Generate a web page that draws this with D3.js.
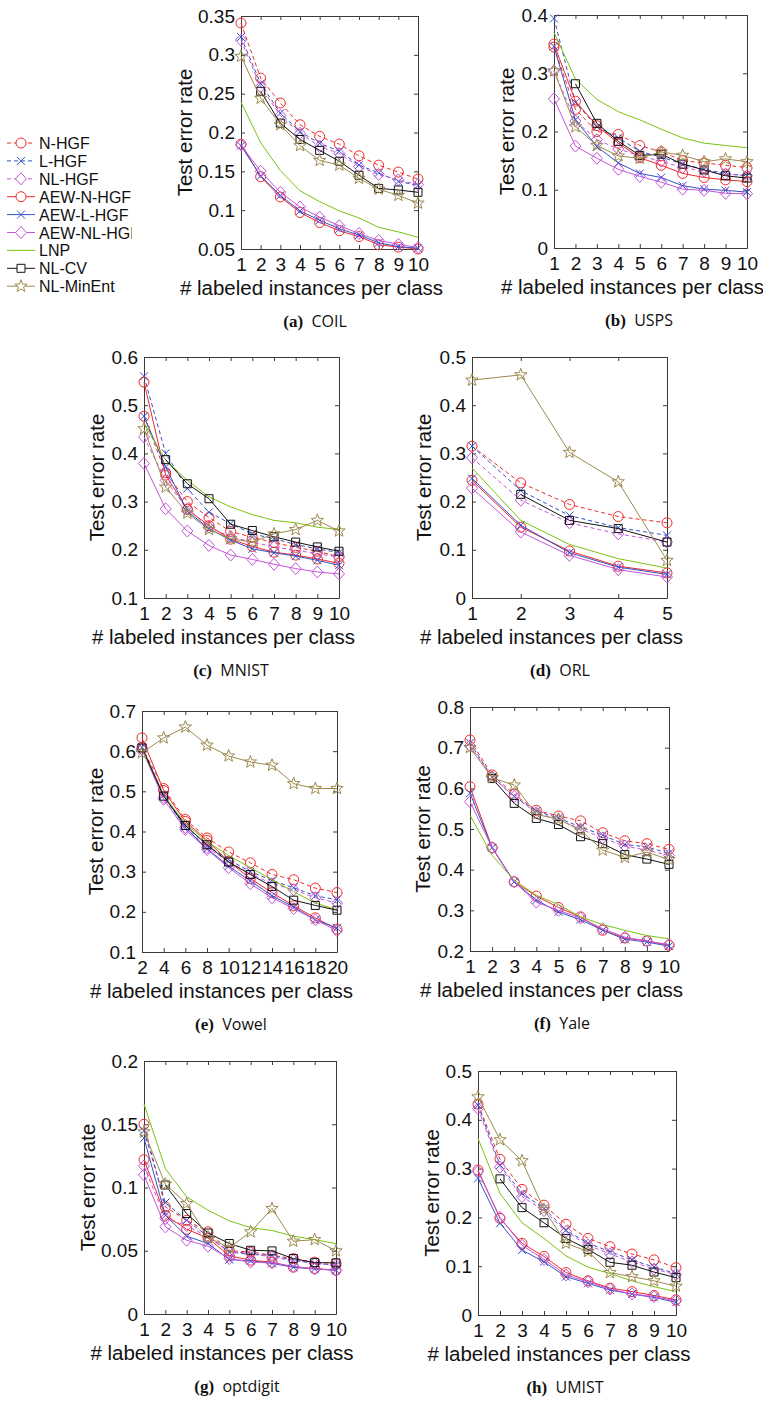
<!DOCTYPE html>
<html>
<head>
<meta charset="utf-8">
<script src="https://cdn.jsdelivr.net/npm/d3@7"></script>
<style>
  body { margin: 0; background: #fff; }
  svg { display: block; }
</style>
</head>
<body>
<svg id="fig" width="763" height="1401"></svg>
<script>
// ---- data (series order follows seriesNames) ----
var seriesNames = ["N-HGF", "L-HGF", "NL-HGF", "AEW-N-HGF", "AEW-L-HGF", "AEW-NL-HGF", "LNP", "NL-CV", "NL-MinEnt"];

var xOneToTen = [1, 2, 3, 4, 5, 6, 7, 8, 9, 10];
var xOneToFive = [1, 2, 3, 4, 5];
var xVowel = [2, 4, 6, 8, 10, 12, 14, 16, 18, 20];

var coilErr = [
  [0.341, 0.270, 0.238, 0.210, 0.195, 0.185, 0.170, 0.158, 0.149, 0.140],
  [0.323, 0.263, 0.225, 0.201, 0.186, 0.176, 0.158, 0.148, 0.137, 0.132],
  [0.319, 0.259, 0.222, 0.199, 0.182, 0.173, 0.156, 0.146, 0.139, 0.133],
  [0.185, 0.143, 0.117, 0.097, 0.084, 0.0735, 0.066, 0.0555, 0.0525, 0.050],
  [0.183, 0.144, 0.119, 0.099, 0.087, 0.076, 0.068, 0.058, 0.053, 0.051],
  [0.184, 0.150, 0.123, 0.104, 0.091, 0.080, 0.070, 0.061, 0.056, 0.052],
  [0.239, 0.187, 0.151, 0.125, 0.111, 0.099, 0.090, 0.078, 0.072, 0.065],
  [null, 0.253, 0.212, 0.191, 0.177, 0.163, 0.145, 0.128, 0.126, 0.123],
  [0.298, 0.244, 0.210, 0.183, 0.164, 0.158, 0.141, 0.127, 0.119, 0.109]
];

var uspsErr = [
  [0.345, 0.238, 0.200, 0.195, 0.176, 0.165, 0.150, 0.146, 0.142, 0.138],
  [0.394, 0.250, 0.208, 0.189, 0.166, 0.156, 0.144, 0.135, 0.128, 0.124],
  [0.304, 0.218, 0.186, 0.170, 0.158, 0.149, 0.138, 0.132, 0.127, 0.124],
  [0.350, 0.252, 0.210, 0.180, 0.155, 0.142, 0.128, 0.121, 0.117, 0.114],
  [0.346, 0.220, 0.174, 0.146, 0.128, 0.121, 0.107, 0.101, 0.099, 0.096],
  [0.256, 0.175, 0.154, 0.135, 0.123, 0.113, 0.101, 0.099, 0.094, 0.093],
  [0.370, 0.290, 0.255, 0.234, 0.220, 0.204, 0.189, 0.180, 0.176, 0.172],
  [null, 0.282, 0.214, 0.183, 0.159, 0.161, 0.144, 0.134, 0.124, 0.120],
  [0.304, 0.208, 0.176, 0.158, 0.154, 0.165, 0.159, 0.148, 0.153, 0.148]
];

var mnistErr = [
  [0.477, 0.360, 0.300, 0.267, 0.238, 0.226, 0.215, 0.205, 0.197, 0.186],
  [0.560, 0.400, 0.327, 0.278, 0.254, 0.233, 0.223, 0.211, 0.202, 0.194],
  [0.434, 0.344, 0.285, 0.247, 0.227, 0.216, 0.206, 0.199, 0.192, 0.185],
  [0.548, 0.355, 0.284, 0.250, 0.222, 0.207, 0.195, 0.189, 0.181, 0.172],
  [0.477, 0.372, 0.280, 0.244, 0.220, 0.202, 0.194, 0.187, 0.178, 0.168],
  [0.379, 0.285, 0.239, 0.209, 0.189, 0.180, 0.170, 0.161, 0.154, 0.150],
  [0.462, 0.386, 0.344, 0.310, 0.289, 0.273, 0.261, 0.256, 0.247, 0.242],
  [null, 0.387, 0.337, 0.306, 0.253, 0.240, 0.227, 0.216, 0.206, 0.197],
  [0.451, 0.330, 0.276, 0.242, 0.223, 0.216, 0.233, 0.242, 0.261, 0.239]
];

var orlErr = [
  [0.315, 0.239, 0.194, 0.169, 0.156],
  [0.315, 0.223, 0.171, 0.146, 0.130],
  [0.291, 0.203, 0.156, 0.133, 0.116],
  [0.244, 0.147, 0.0975, 0.066, 0.052],
  [0.248, 0.151, 0.094, 0.064, 0.049],
  [0.228, 0.137, 0.0885, 0.059, 0.0435],
  [0.270, 0.161, 0.111, 0.0816, 0.062],
  [null, 0.215, 0.161, 0.144, 0.116],
  [0.452, 0.463, 0.302, 0.241, 0.078]
];

var vowelErr = [
  [0.610, 0.507, 0.430, 0.384, 0.349, 0.322, 0.293, 0.280, 0.259, 0.248],
  [0.610, 0.490, 0.415, 0.365, 0.330, 0.300, 0.278, 0.260, 0.240, 0.230],
  [0.605, 0.485, 0.410, 0.360, 0.325, 0.295, 0.270, 0.255, 0.235, 0.222],
  [0.633, 0.502, 0.425, 0.378, 0.325, 0.283, 0.248, 0.215, 0.185, 0.157],
  [0.610, 0.490, 0.410, 0.357, 0.314, 0.277, 0.240, 0.212, 0.180, 0.160],
  [0.605, 0.480, 0.405, 0.355, 0.310, 0.270, 0.235, 0.208, 0.180, 0.153],
  [0.605, 0.490, 0.420, 0.375, 0.340, 0.310, 0.280, 0.250, 0.222, 0.205],
  [0.608, 0.488, 0.415, 0.367, 0.324, 0.293, 0.263, 0.229, 0.216, 0.204],
  [0.596, 0.633, 0.660, 0.615, 0.588, 0.573, 0.565, 0.519, 0.507, 0.507]
];

var yaleErr = [
  [0.719, 0.633, 0.585, 0.546, 0.532, 0.520, 0.491, 0.471, 0.464, 0.450],
  [0.712, 0.628, 0.580, 0.544, 0.527, 0.505, 0.485, 0.462, 0.456, 0.440],
  [0.705, 0.628, 0.580, 0.540, 0.523, 0.500, 0.478, 0.458, 0.448, 0.435],
  [0.604, 0.454, 0.370, 0.335, 0.307, 0.284, 0.251, 0.232, 0.225, 0.214],
  [0.588, 0.454, 0.370, 0.325, 0.296, 0.277, 0.251, 0.229, 0.222, 0.212],
  [0.567, 0.454, 0.370, 0.320, 0.300, 0.281, 0.255, 0.234, 0.224, 0.216],
  [0.534, 0.435, 0.374, 0.337, 0.314, 0.284, 0.265, 0.251, 0.238, 0.230],
  [null, 0.624, 0.563, 0.526, 0.511, 0.481, 0.464, 0.437, 0.426, 0.413],
  [0.700, 0.626, 0.608, 0.536, 0.524, 0.497, 0.448, 0.430, 0.443, 0.425]
];

var optdigitErr = [
  [0.150, 0.0847, 0.074, 0.065, 0.050, 0.049, 0.0464, 0.0438, 0.041, 0.040],
  [0.145, 0.088, 0.074, 0.0615, 0.049, 0.047, 0.0464, 0.0425, 0.040, 0.0385],
  [0.117, 0.0755, 0.070, 0.061, 0.049, 0.0483, 0.0446, 0.0425, 0.040, 0.0385],
  [0.122, 0.078, 0.067, 0.060, 0.046, 0.0425, 0.041, 0.037, 0.036, 0.0346],
  [0.139, 0.078, 0.0615, 0.0557, 0.043, 0.042, 0.040, 0.037, 0.0356, 0.0346],
  [0.110, 0.0689, 0.0583, 0.0536, 0.0438, 0.041, 0.0404, 0.0377, 0.0356, 0.0346],
  [0.166, 0.115, 0.0926, 0.082, 0.0736, 0.0683, 0.066, 0.0615, 0.0588, 0.0557],
  [null, 0.102, 0.0794, 0.064, 0.0557, 0.0504, 0.0499, 0.0438, 0.0406, 0.0404],
  [0.144, 0.1026, 0.0873, 0.0604, 0.0525, 0.0649, 0.0834, 0.0575, 0.0588, 0.0499]
];

var umistErr = [
  [0.432, 0.319, 0.2575, 0.225, 0.186, 0.157, 0.140, 0.125, 0.113, 0.097],
  [0.430, 0.307, 0.249, 0.2186, 0.174, 0.147, 0.130, 0.113, 0.098, 0.085],
  [0.423, 0.303, 0.2425, 0.214, 0.171, 0.143, 0.125, 0.109, 0.094, 0.083],
  [0.297, 0.198, 0.147, 0.120, 0.087, 0.070, 0.055, 0.048, 0.040, 0.031],
  [0.280, 0.188, 0.133, 0.109, 0.0785, 0.065, 0.051, 0.043, 0.036, 0.026],
  [0.294, 0.200, 0.143, 0.114, 0.082, 0.068, 0.053, 0.043, 0.0376, 0.029],
  [0.362, 0.249, 0.189, 0.157, 0.121, 0.098, 0.085, 0.070, 0.058, 0.048],
  [null, 0.279, 0.220, 0.189, 0.157, 0.1345, 0.108, 0.102, 0.088, 0.0765],
  [0.447, 0.359, 0.316, 0.2165, 0.147, 0.130, 0.0867, 0.0785, 0.070, 0.059]
];

// tick values
var yTicksCOIL = [0.05, 0.1, 0.15, 0.2, 0.25, 0.3, 0.35];
var yTicksUSPS = [0, 0.1, 0.2, 0.3, 0.4];
var yTicksMNIST = [0.1, 0.2, 0.3, 0.4, 0.5, 0.6];
var yTicksORL = [0, 0.1, 0.2, 0.3, 0.4, 0.5];
var yTicksVowel = [0.1, 0.2, 0.3, 0.4, 0.5, 0.6, 0.7];
var yTicksYale = [0.2, 0.3, 0.4, 0.5, 0.6, 0.7, 0.8];
var yTicksOptdigit = [0, 0.05, 0.1, 0.15, 0.2];
var yTicksUMIST = [0, 0.1, 0.2, 0.3, 0.4, 0.5];

// ---- styles ----
var seriesStyle = [
  {color: "#f02a2a", dash: "4,3", marker: "circle"},
  {color: "#3352c8", dash: "4,3", marker: "x"},
  {color: "#c455d8", dash: "4,3", marker: "diamond"},
  {color: "#f02a2a", dash: null, marker: "circle"},
  {color: "#3352c8", dash: null, marker: "x"},
  {color: "#c455d8", dash: null, marker: "diamond"},
  {color: "#7cc212", dash: null, marker: null},
  {color: "#111111", dash: null, marker: "square"},
  {color: "#9c8a4e", dash: null, marker: "star"}
];

var frameColor = "#3a3a3a";
var sansFont = "'Liberation Sans', Arial, Helvetica, sans-serif";

// panel layout: box = [left, top, right, bottom]
var panels = [
  {tag: "(a)", name: "COIL", xs: xOneToTen, err: coilErr, yDom: [0.05, 0.35], yTicks: yTicksCOIL, box: [241, 16, 418, 249], yLabOff: 56, capX: 315},
  {tag: "(b)", name: "USPS", xs: xOneToTen, err: uspsErr, yDom: [0, 0.4], yTicks: yTicksUSPS, box: [554, 15, 747, 248], yLabOff: 47, capX: 639},
  {tag: "(c)", name: "MNIST", xs: xOneToTen, err: mnistErr, yDom: [0.1, 0.6], yTicks: yTicksMNIST, box: [144, 357, 339, 598], yLabOff: 47, capX: 231},
  {tag: "(d)", name: "ORL", xs: xOneToFive, err: orlErr, yDom: [0, 0.5], yTicks: yTicksORL, box: [472, 357, 667, 598], yLabOff: 48, capX: 560},
  {tag: "(e)", name: "Vowel", xs: xVowel, err: vowelErr, yDom: [0.1, 0.7], yTicks: yTicksVowel, box: [142, 711, 337, 952], yLabOff: 46, capX: 231},
  {tag: "(f)", name: "Yale", xs: xOneToTen, err: yaleErr, yDom: [0.2, 0.8], yTicks: yTicksYale, box: [470, 707, 669, 951], yLabOff: 47, capX: 562},
  {tag: "(g)", name: "optdigit", xs: xOneToTen, err: optdigitErr, yDom: [0, 0.2], yTicks: yTicksOptdigit, box: [144, 1061, 336, 1314], yLabOff: 56, capX: 237},
  {tag: "(h)", name: "UMIST", xs: xOneToTen, err: umistErr, yDom: [0, 0.5], yTicks: yTicksUMIST, box: [478, 1071, 676, 1315], yLabOff: 46, capX: 565}
];

// marker shapes centred at 0,0
function markerPath(type) {
  if (type == "circle") return "M5,0A5,5 0 1,1 -5,0A5,5 0 1,1 5,0Z";
  if (type == "x") return "M-4,-4L4,4M-4,4L4,-4";
  if (type == "diamond") return "M0,-6L5.5,0L0,6L-5.5,0Z";
  if (type == "square") return "M-4,-4H4V4H-4Z";
  if (type == "star") {
    var pts = [];
    for (var k = 0; k < 10; k++) {
      var r = (k % 2 == 0) ? 6.5 : 2.7;
      var a = -Math.PI / 2 + k * Math.PI / 5;
      pts.push([r * Math.cos(a), r * Math.sin(a)]);
    }
    return "M" + pts.map(function(p) { return p[0].toFixed(2) + "," + p[1].toFixed(2); }).join("L") + "Z";
  }
  return "";
}

function tickLabel(v) {
  return String(+v.toFixed(2));
}

var svg = d3.select("#fig");

/********************************
 * one subplot per dataset
 *********************************/
function drawPanel(p) {
  var L = p.box[0], T = p.box[1], R = p.box[2], B = p.box[3];
  var g = svg.append("g").attr("class", "panel");

  var x = d3.scaleLinear().domain(d3.extent(p.xs)).range([L, R]);
  var y = d3.scaleLinear().domain(p.yDom).range([B, T]);

  // inward ticks on all four sides, labels on bottom and left
  var bottom = g.append("g").attr("transform", "translate(0," + B + ")")
      .call(d3.axisBottom(x).tickValues(p.xs).tickSizeInner(-4).tickSizeOuter(0).tickPadding(9).tickFormat(d3.format("d")));
  g.append("g").attr("transform", "translate(" + L + ",0)")
      .call(d3.axisLeft(y).tickValues(p.yTicks).tickSizeInner(-4).tickSizeOuter(0).tickPadding(6).tickFormat(tickLabel));
  g.append("g").attr("transform", "translate(0," + T + ")")
      .call(d3.axisTop(x).tickValues(p.xs).tickSizeInner(-4).tickSizeOuter(0).tickFormat(""));
  g.append("g").attr("transform", "translate(" + R + ",0)")
      .call(d3.axisRight(y).tickValues(p.yTicks).tickSizeInner(-4).tickSizeOuter(0).tickFormat(""));

  g.selectAll(".domain").attr("stroke", frameColor).attr("stroke-width", 1);
  g.selectAll(".tick line").attr("stroke", frameColor);
  g.selectAll(".tick text")
      .attr("fill", "#111")
      .style("font-family", sansFont)
      .style("font-size", "19px");
  // the vowel panel labels run together as in the original
  if (p.name == "Vowel") bottom.selectAll(".tick text").style("letter-spacing", "-0.3px");

  // series
  var line = d3.line()
      .defined(function(d) { return d[1] != null; })
      .x(function(d) { return x(d[0]); })
      .y(function(d) { return y(d[1]); });

  p.err.forEach(function(vals, si) {
    var st = seriesStyle[si];
    var pts = p.xs.map(function(xv, i) { return [xv, vals[i]]; });
    g.append("path")
        .datum(pts)
        .attr("d", line)
        .attr("fill", "none")
        .attr("stroke", st.color)
        .attr("stroke-width", 1)
        .attr("stroke-dasharray", st.dash);
    if (st.marker) {
      g.selectAll(null)
          .data(pts.filter(function(d) { return d[1] != null; }))
          .enter()
          .append("path")
          .attr("transform", function(d) { return "translate(" + x(d[0]) + "," + y(d[1]) + ")"; })
          .attr("d", markerPath(st.marker))
          .attr("fill", "none")
          .attr("stroke", st.color)
          .attr("stroke-width", 1);
    }
  });

  // axis titles
  var cx = (L + R) / 2;
  g.append("text")
      .attr("x", cx - 18).attr("y", B + 46)
      .attr("text-anchor", "middle")
      .style("font-family", sansFont).style("font-size", "20.5px").attr("fill", "#111")
      .text("# labeled instances per class");
  var yl = L - p.yLabOff, ym = (T + B) / 2;
  g.append("text")
      .attr("transform", "translate(" + (yl + 7) + "," + ym + ") rotate(-90)")
      .attr("text-anchor", "middle")
      .style("font-family", sansFont).style("font-size", "20.5px").attr("fill", "#111")
      .text("Test error rate");

  // sub caption
  var cap = g.append("text")
      .attr("x", p.capX).attr("y", B + 78)
      .attr("text-anchor", "middle")
      .attr("fill", "#111");
  cap.append("tspan")
      .style("font-family", "'Liberation Serif', 'Times New Roman', serif")
      .style("font-weight", "bold").style("font-size", "17px")
      .text(p.tag);
  cap.append("tspan")
      .style("font-family", "'Open Sans', 'Noto Sans', sans-serif")
      .style("font-size", "16px")
      .text("\u00a0 " + p.name);
}

panels.forEach(drawPanel);

/********************************
 * legend (left of panel a)
 *********************************/
var legClip = svg.append("clipPath").attr("id", "legclip");
legClip.append("rect").attr("x", 0).attr("y", 120).attr("width", 132).attr("height", 190);

var legend = svg.append("g").attr("clip-path", "url(#legclip)");
seriesNames.forEach(function(name, i) {
  var st = seriesStyle[i];
  var ly = 143 + i * 17.9;
  var row = legend.append("g").attr("transform", "translate(0," + ly + ")");
  row.append("line")
      .attr("x1", 7).attr("x2", 35).attr("y1", 0).attr("y2", 0)
      .attr("stroke", st.color).attr("stroke-width", 1)
      .attr("stroke-dasharray", st.dash);
  if (st.marker) {
    row.append("path")
        .attr("transform", "translate(21,0)")
        .attr("d", markerPath(st.marker))
        .attr("fill", "#fff")
        .attr("stroke", st.color);
  }
  row.append("text")
      .attr("x", 39).attr("y", 6)
      .style("font-family", sansFont).style("font-size", "16px").attr("fill", "#111")
      .text(name);
});
</script>
</body>
</html>
